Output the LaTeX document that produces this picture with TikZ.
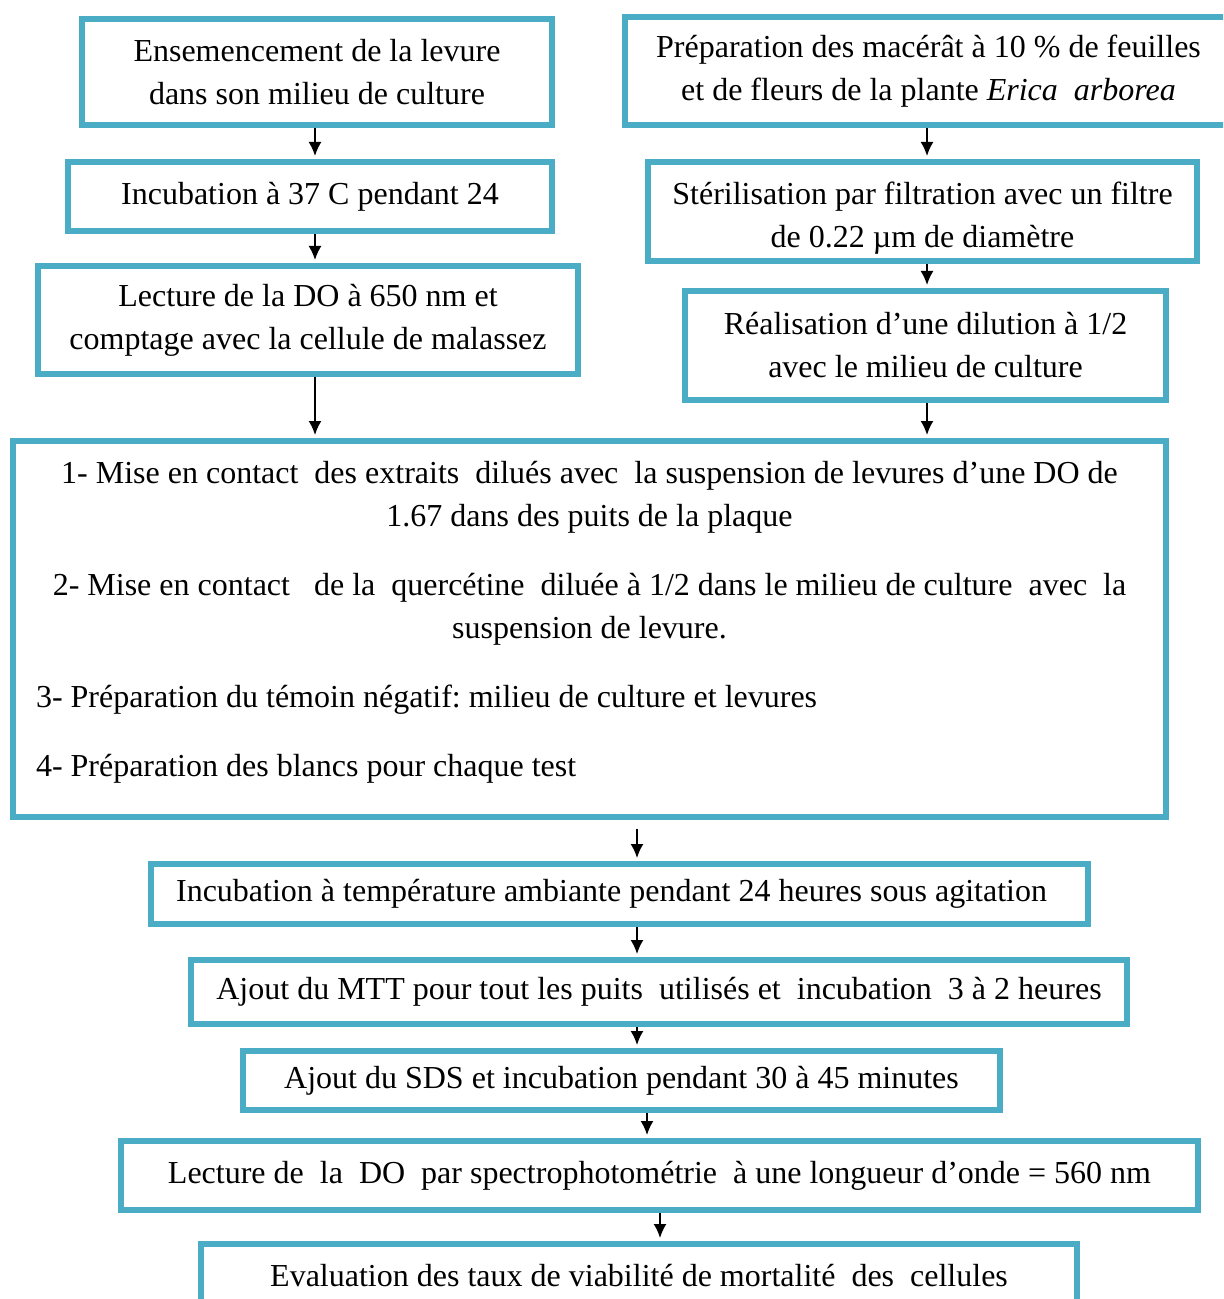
\documentclass[tikz,border=0pt]{standalone}
\usepackage{fontspec}
\setmainfont{Liberation Serif}
\usepackage{tikz}
\usetikzlibrary{arrows.meta}
\definecolor{bleuboite}{HTML}{4BACC6}
\frenchspacing

\tikzset{
  boite/.style={draw=bleuboite, line width=3pt, align=center, inner sep=3pt,
    font=\fontsize{16}{21.5}\selectfont},
  fleche/.style={line width=0.9pt, -{Latex[length=7pt,width=6.5pt]}, shorten >=1.5pt}
}

\begin{document}
\begin{tikzpicture}[x=0.5pt, y=-0.5pt]
        \useasboundingbox (0,0) rectangle (1223,1299);
        \clip (0,0) rectangle (1223,1299);

        % colonne de gauche
        \node[boite, minimum width=235pt, minimum height=53pt] (A) at (317,72)
            {Ensemencement de la levure\\ dans son milieu de culture};
        \node[boite, minimum width=242pt, minimum height=34.5pt] (B) at (310,196.5)
            {Incubation à 37 C pendant 24};
        \node[boite, minimum width=270pt, minimum height=54pt] (C) at (308,320)
            {Lecture de la DO à 650 nm et\\ comptage avec la cellule de malassez};

        % colonne de droite
        \node[boite, minimum width=303.5pt, minimum height=54pt] (D) at (928.5,71)
            {Préparation des macérât à 10 \% de feuilles\\ et de fleurs de la plante \textit{Erica\ \ arborea}};
        \node[boite, minimum width=274.5pt, minimum height=49.5pt] (E) at (922.5,211.5)
            {\rule{0pt}{17.5pt}Stérilisation par filtration avec un filtre\\ de 0.22 µm de diamètre};
        \node[boite, minimum width=240.5pt, minimum height=54.5pt] (F) at (925.5,345.5)
            {Réalisation d’une dilution à 1/2\\ avec le milieu de culture};

        % grande boite
        \def\largeur{553.5pt}
        \node[boite, minimum width=576.5pt, minimum height=188pt, inner xsep=11.5pt] (G) at (589.5,629) {%
            1- Mise en contact\ \ des extraits\ \ dilués avec\ \ la suspension de levures d’une DO de\\
            1.67 dans des puits de la plaque\\[13pt]
            2- Mise en contact\ \ \ de la\ \ quercétine\ \ diluée à 1/2 dans le milieu de culture\ \ avec\ \ la\\
            suspension de levure.\\[13pt]
            \makebox[\largeur][l]{3- Préparation du témoin négatif: milieu de culture et levures}\\[13pt]
            \makebox[\largeur][l]{4- Préparation des blancs pour chaque test\rule[-10.5pt]{0pt}{10.5pt}}};

        % suite
        \node[boite, minimum width=468.5pt, minimum height=30pt] (H) at (619.5,894)
            {Incubation à température ambiante pendant 24 heures sous agitation\ \ };
        \node[boite, minimum width=468pt, minimum height=32pt] (I) at (659,992)
            {Ajout du MTT pour tout les puits\ \ utilisés et\ \ incubation\ \ 3 à 2 heures};
        \node[boite, minimum width=378.5pt, minimum height=29.5pt] (J) at (621.5,1080.5)
            {Ajout du SDS et incubation pendant 30 à 45 minutes};
        \node[boite, minimum width=538.5pt, minimum height=34.5pt] (K) at (659.5,1175.5)
            {Lecture de\ \ la\ \ DO\ \ par spectrophotométrie\ \ à une longueur d’onde = 560 nm};
        \node[boite, minimum width=438pt, minimum height=32pt] (L) at (639,1276)
            {Evaluation des taux de viabilité de mortalité\ \ des\ \ cellules};

        \coordinate (colG) at (315,0);
        \coordinate (colD) at (927,0);
        \coordinate (colB) at (637,0);
        \coordinate (colJ) at (647,0);
        \coordinate (colK) at (660,0);

        \foreach \a/\b in {A/B, B/C, C/G} {
            \draw[fleche] (\a.south -| colG) -- (\b.north -| colG);
        }
        \foreach \a/\b in {D/E, E/F, F/G} {
            \draw[fleche] (\a.south -| colD) -- (\b.north -| colD);
        }
        \draw[fleche, shorten <=4.5pt] (G.south -| colB) -- (H.north -| colB);
        \foreach \a/\b in {H/I, I/J} {
            \draw[fleche] (\a.south -| colB) -- (\b.north -| colB);
        }
        \draw[fleche] (J.south -| colJ) -- (K.north -| colJ);
        \draw[fleche] (K.south -| colK) -- (L.north -| colK);
\end{tikzpicture}
\end{document}
